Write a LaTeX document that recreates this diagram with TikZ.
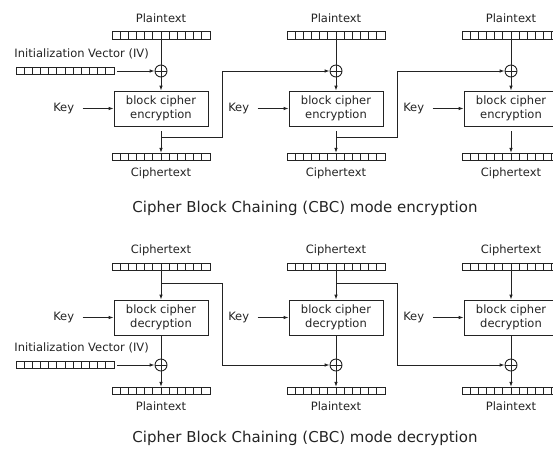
\documentclass[tikz,border=0pt]{standalone}
\usepackage{fontspec}
\setmainfont{DejaVu Sans}
\usetikzlibrary{positioning, arrows.meta, calc}
\definecolor{linecolor}{RGB}{35,35,35}

\begin{document}
\begin{tikzpicture}[
    x=1pt, y=-1pt,
    color=linecolor,
    line width=0.9pt,
    lbl/.style={font=\fontsize{11.5}{13.5}\selectfont, inner sep=1pt},
    keylbl/.style={font=\fontsize{11.5}{13.5}\selectfont, inner ysep=1pt, inner xsep=8pt},
    box/.style={draw, rectangle, minimum width=94pt, minimum height=35pt, align=center, font=\fontsize{11.5}{13.5}\selectfont},
    reg/.style={draw, rectangle, minimum width=98pt, minimum height=7.5pt, inner sep=0pt,
        path picture={\foreach \k in {1,...,11} \draw ([xshift=\k*98pt/12]path picture bounding box.south west) -- ([xshift=\k*98pt/12]path picture bounding box.north west);}},
    xorop/.style={draw, circle, minimum size=12pt, inner sep=0pt,
        path picture={\draw (path picture bounding box.north) -- (path picture bounding box.south) (path picture bounding box.west) -- (path picture bounding box.east);}},
    arrow/.style={-{Latex[length=5pt, width=3.6pt]}},
    title/.style={font=\fontsize{15}{18}\selectfont}
]
    \clip (0,0) rectangle (553,451);

    % === Chiffrement ===
    \node[lbl] (pt1) at (161,18) {Plaintext};
    \node[reg] (ptr1) at (161,35.5) {};
    \node[lbl, anchor=west] (ivtxt1) at (13,54) {Initialization Vector (IV)};
    \node[reg] (iv1) at (65,71) {};
    \node[xorop] (xor1) at (161,71) {};
    \node[box] (enc1) at (161,108.5) {block cipher\\encryption};
    \node[keylbl, left=31pt of enc1] (key1) {Key};
    \node[reg] (ctr1) at (161,157) {};
    \node[lbl] (ct1) at (161,173) {Ciphertext};

    \node[lbl] (pt2) at (336,18) {Plaintext};
    \node[reg] (ptr2) at (336,35.5) {};
    \node[xorop] (xor2) at (336,71) {};
    \node[box] (enc2) at (336,108.5) {block cipher\\encryption};
    \node[keylbl, left=31pt of enc2] (key2) {Key};
    \node[reg] (ctr2) at (336,157) {};
    \node[lbl] (ct2) at (336,173) {Ciphertext};

    \node[lbl] (pt3) at (511,18) {Plaintext};
    \node[reg] (ptr3) at (511,35.5) {};
    \node[xorop] (xor3) at (511,71) {};
    \node[box] (enc3) at (511,108.5) {block cipher\\encryption};
    \node[keylbl, left=31pt of enc3] (key3) {Key};
    \node[reg] (ctr3) at (511,157) {};
    \node[lbl] (ct3) at (511,173) {Ciphertext};

    \draw (ptr1) -- (xor1);
    \draw (ptr2) -- (xor2);
    \draw (ptr3) -- (xor3);
    \draw[arrow, shorten <=3pt] (iv1) -- (xor1);
    \draw[arrow] (xor1) -- (enc1);
    \draw[arrow] (xor2) -- (enc2);
    \draw[arrow] (xor3) -- (enc3);
    \draw[arrow] (key1) -- (enc1);
    \draw[arrow] (key2) -- (enc2);
    \draw[arrow] (key3) -- (enc3);
    \draw[arrow, shorten <=5pt] (enc1) -- (ctr1);
    \draw[arrow, shorten <=5pt] (enc2) -- (ctr2);
    \draw[arrow, shorten <=5pt] (enc3) -- (ctr3);

    % chainage
    \coordinate (ch1) at (161,137);
    \coordinate (ch2) at (336,137);
    \draw[arrow] (ch1) -- ++(61,0) |- (xor2);
    \draw[arrow] (ch2) -- ++(61,0) |- (xor3);

    \node[title] (tenc) at (305,208) {Cipher Block Chaining (CBC) mode encryption};

    % === Déchiffrement ===
    \node[lbl] (dct1) at (161,250) {Ciphertext};
    \node[reg] (dctr1) at (161,267) {};
    \node[box] (dec1) at (161,317.5) {block cipher\\decryption};
    \node[keylbl, left=31pt of dec1] (dkey1) {Key};
    \node[lbl, anchor=west] (ivtxt2) at (13,348) {Initialization Vector (IV)};
    \node[reg] (iv2) at (65,365) {};
    \node[xorop] (dxor1) at (161,365) {};
    \node[reg] (dptr1) at (161,391) {};
    \node[lbl] (dpt1) at (161,406) {Plaintext};

    \node[lbl] (dct2) at (336,250) {Ciphertext};
    \node[reg] (dctr2) at (336,267) {};
    \node[box] (dec2) at (336,317.5) {block cipher\\decryption};
    \node[keylbl, left=31pt of dec2] (dkey2) {Key};
    \node[xorop] (dxor2) at (336,365) {};
    \node[reg] (dptr2) at (336,391) {};
    \node[lbl] (dpt2) at (336,406) {Plaintext};

    \node[lbl] (dct3) at (511,250) {Ciphertext};
    \node[reg] (dctr3) at (511,267) {};
    \node[box] (dec3) at (511,317.5) {block cipher\\decryption};
    \node[keylbl, left=31pt of dec3] (dkey3) {Key};
    \node[xorop] (dxor3) at (511,365) {};
    \node[reg] (dptr3) at (511,391) {};
    \node[lbl] (dpt3) at (511,406) {Plaintext};

    \draw[arrow] (dctr1) -- (dec1);
    \draw[arrow] (dctr2) -- (dec2);
    \draw[arrow] (dctr3) -- (dec3);
    \draw[arrow] (dkey1) -- (dec1);
    \draw[arrow] (dkey2) -- (dec2);
    \draw[arrow] (dkey3) -- (dec3);
    \draw (dec1) -- (dxor1);
    \draw (dec2) -- (dxor2);
    \draw (dec3) -- (dxor3);
    \draw[arrow, shorten <=3pt] (iv2) -- (dxor1);
    \draw[arrow] (dxor1) -- (dptr1);
    \draw[arrow] (dxor2) -- (dptr2);
    \draw[arrow] (dxor3) -- (dptr3);

    % chainage
    \coordinate (dch1) at (161,283);
    \coordinate (dch2) at (336,283);
    \draw[arrow] (dch1) -- ++(61,0) |- (dxor2);
    \draw[arrow] (dch2) -- ++(61,0) |- (dxor3);

    \node[title] (tdec) at (305,438) {Cipher Block Chaining (CBC) mode decryption};
\end{tikzpicture}
\end{document}
